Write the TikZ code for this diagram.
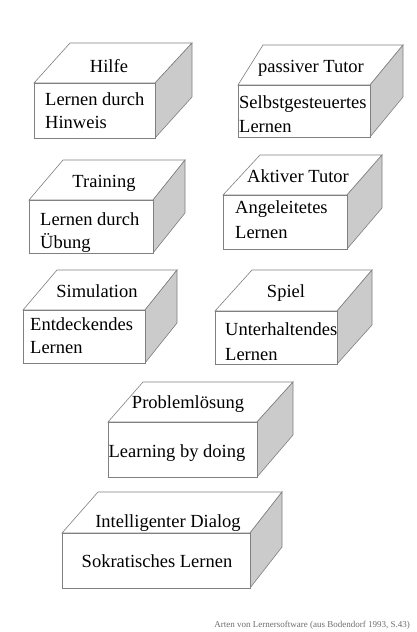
\documentclass[tikz,border=0pt]{standalone}
\usepackage{fontspec}
\setmainfont{Liberation Serif}
\definecolor{edge}{HTML}{808080}
\definecolor{side}{HTML}{CBCBCB}
\definecolor{capgray}{HTML}{6E6E6E}
\tikzset{
  face/.style={draw=edge, line width=0.6pt, line join=miter, fill=white},
  sideface/.style={draw=edge, line width=0.6pt, fill=side},
  ttl/.style={inner sep=0pt, anchor=base, font=\fontsize{18.5}{22}\selectfont},
  body/.style={inner sep=0pt, anchor=base west, font=\fontsize{18.5}{22}\selectfont},
  bodyc/.style={inner sep=0pt, anchor=base, font=\fontsize{18.5}{22}\selectfont},
  capt/.style={inner sep=0pt, anchor=base east, text=capgray, font=\fontsize{9}{11}\selectfont}
}
% #1 front left x, #2 front top y, #3 front right x, #4 front bottom y,
% #5 back left x, #6 back right x, #7 back top y, #8 back bottom y
\newcommand{\quader}[8]{%
  \draw[face] (#1,#2) -- (#5,#7) -- (#6,#7) -- (#3,#2) -- cycle;
  \draw[sideface] (#3,#2) -- (#6,#7) -- (#6,#8) -- (#3,#4) -- cycle;
  \draw[face] (#1,#2) rectangle (#3,#4);
}
\begin{document}
\begin{tikzpicture}[x=1pt,y=-1pt]
\useasboundingbox (0,0) rectangle (416,632);
\fill[white] (0,0) rectangle (416,632);
% boxes
\quader{34}{83}{155}{138}{70}{192}{43}{97}
\quader{238}{85}{370}{137}{263}{403}{45}{97}
\quader{29}{200}{153}{253}{63}{185}{160}{213}
\quader{223}{195}{347}{249}{260}{382}{155}{208}
\quader{23}{310}{145}{363}{57}{177}{270}{323}
\quader{215}{311}{337}{364}{252}{372}{270}{325}
\quader{108}{422}{257}{477}{143}{293}{382}{435}
\quader{62}{533}{250}{588}{98}{282}{492}{547}
% texts
\node[ttl] (t1) at (109,72) {Hilfe};
\node[body] (b1a) at (45,105) {Lernen durch};
\node[body] (b1b) at (45,128) {Hinweis};
\node[ttl] (t2) at (311,72) {passiver Tutor};
\node[body] (b2a) at (239,108) {Selbstgesteuertes};
\node[body] (b2b) at (239,132) {Lernen};
\node[ttl] (t3) at (104,187) {Training};
\node[body] (b3a) at (40,225) {Lernen durch};
\node[body] (b3b) at (40,248) {Übung};
\node[ttl] (t4) at (298,182) {Aktiver Tutor};
\node[body] (b4a) at (235,213) {Angeleitetes};
\node[body] (b4b) at (235,238) {Lernen};
\node[ttl] (t5) at (97,297) {Simulation};
\node[body] (b5a) at (30,330) {Entdeckendes};
\node[body] (b5b) at (30,353) {Lernen};
\node[ttl] (t6) at (286,297) {Spiel};
\node[body] (b6a) at (225,335) {Unterhaltendes};
\node[body] (b6b) at (225,360) {Lernen};
\node[ttl] (t7) at (188,408) {Problemlösung};
\node[bodyc] (b7) at (177,457) {Learning by doing};
\node[ttl] (t8) at (168,527) {Intelligenter Dialog};
\node[bodyc] (b8) at (157,567) {Sokratisches Lernen};
\node[capt] (cap) at (410,627) {Arten von Lernersoftware (aus Bodendorf 1993, S.43)};
\end{tikzpicture}
\end{document}
